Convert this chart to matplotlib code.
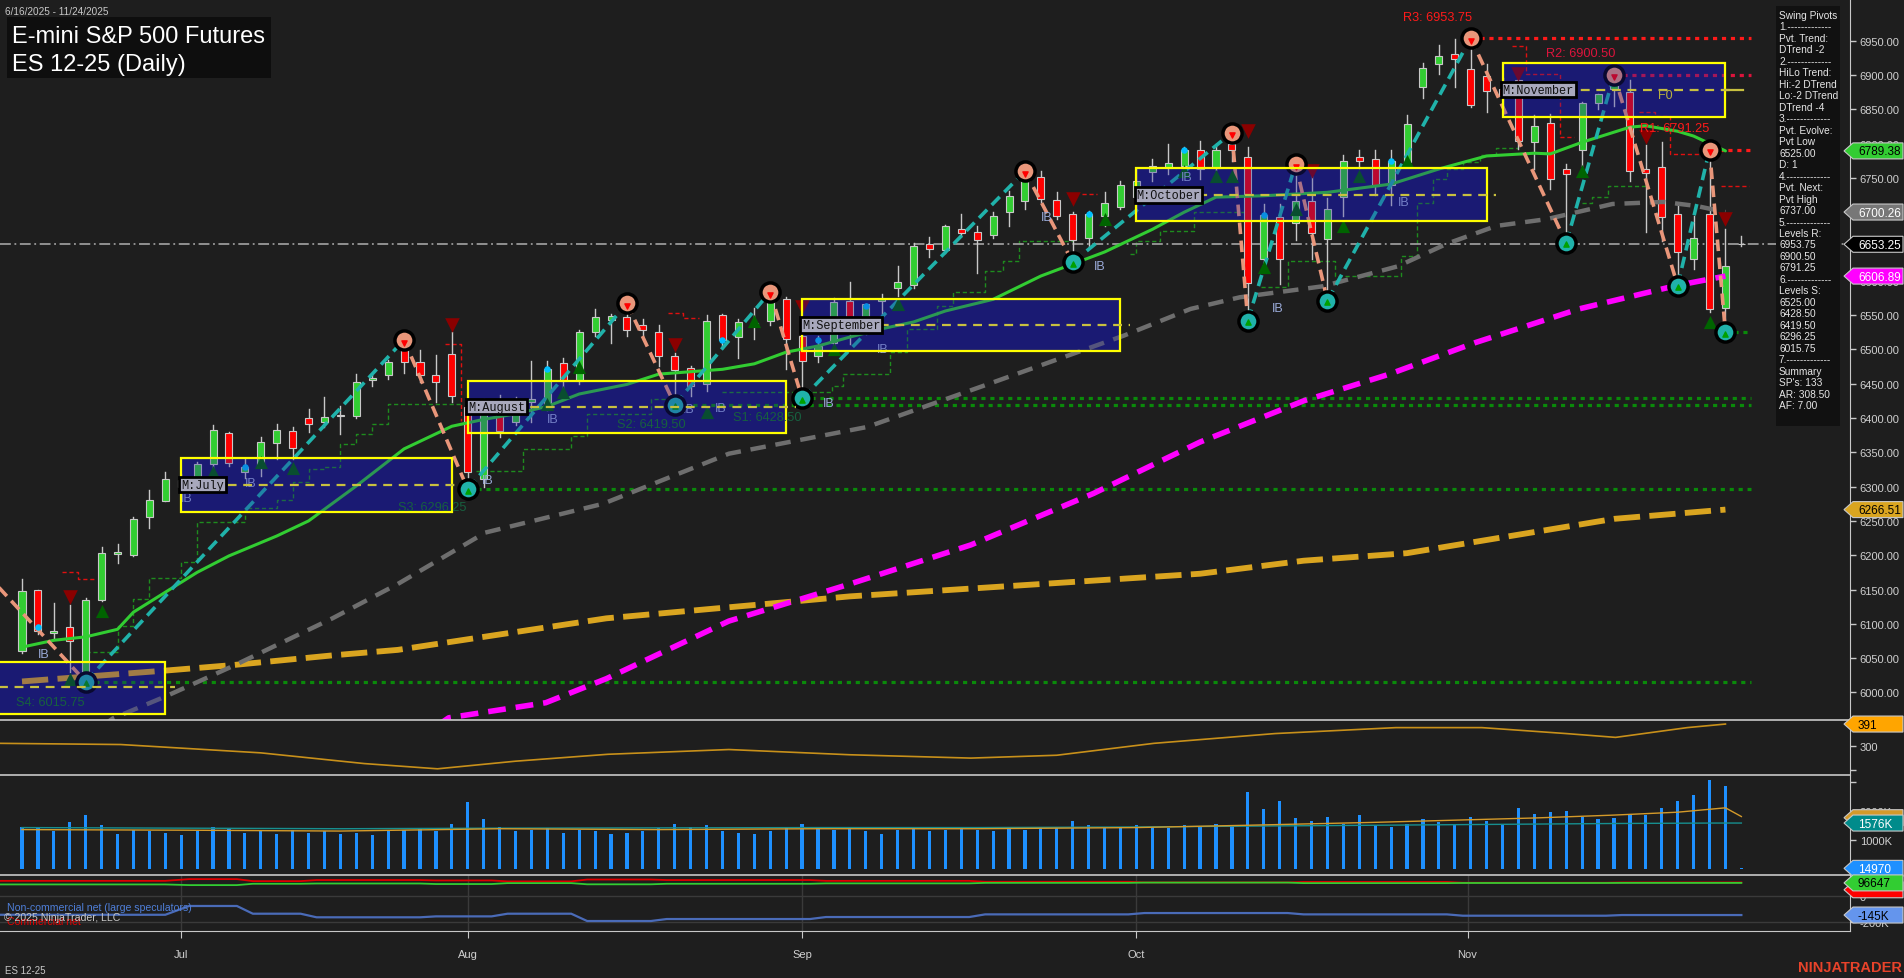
import numpy as np
import matplotlib
matplotlib.use("Agg")
import matplotlib.pyplot as plt
from matplotlib.patches import Rectangle, Polygon

plt.rcParams['font.family'] = ['Liberation Sans', 'DejaVu Sans']

BG = '#1E1E1E'
TXT = '#D0D0D0'

# ---- daily bars, index 0 = first bar on screen ----
opens = [6060, 6149, 6087, 6095, 6029, 6134, 6202, 6201, 6255, 6279,
         6300, 6307, 6333, 6378, 6322, 6330, 6363, 6381, 6400, 6394,
         6403, 6403, 6455, 6463, 6499, 6481, 6463, 6493, 6416, 6311,
         6425, 6394, 6424, 6413, 6480, 6454, 6525, 6543, 6547, 6535,
         6526, 6490, 6473, 6450, 6550, 6518, 6535, 6542, 6573, 6520,
         6490, 6510, 6571, 6539, 6570, 6590, 6594, 6654, 6645, 6675,
         6671, 6667, 6701, 6717, 6752, 6718, 6698, 6663, 6695, 6708,
         6722, 6758, 6765, 6767, 6791, 6765, 6800, 6781, 6632, 6693,
         6685, 6716, 6661, 6722, 6781, 6777, 6739, 6773, 6882, 6916,
         6930, 6909, 6898, 6880, 6892, 6802, 6830, 6763, 6790, 6859,
         6880, 6875, 6763, 6766, 6698, 6632, 6698, 6561, 6653]
highs = [6165, 6150, 6130, 6127, 6137, 6212, 6216, 6255, 6295, 6321,
         6318, 6336, 6390, 6380, 6340, 6373, 6391, 6387, 6413, 6430,
         6418, 6464, 6464, 6484, 6514, 6499, 6492, 6526, 6423, 6428,
         6434, 6430, 6483, 6483, 6488, 6528, 6559, 6552, 6567, 6545,
         6535, 6495, 6476, 6550, 6552, 6544, 6561, 6584, 6576, 6524,
         6520, 6575, 6598, 6566, 6581, 6622, 6655, 6664, 6682, 6697,
         6680, 6700, 6731, 6760, 6760, 6730, 6700, 6702, 6730, 6745,
         6763, 6778, 6800, 6795, 6804, 6800, 6816, 6795, 6712, 6712,
         6770, 6768, 6720, 6783, 6790, 6790, 6790, 6841, 6917, 6944,
         6952, 6953.75, 6916, 6895, 6909, 6841, 6843, 6771, 6860, 6872,
         6900.5, 6892, 6798, 6802, 6712, 6695, 6791.25, 6675, 6666]
lows = [6058, 6085, 6078, 6030, 6015.75, 6133, 6188, 6199, 6240, 6279,
        6290, 6297, 6320, 6330, 6312, 6316, 6340, 6340, 6380, 6387,
        6377, 6400, 6447, 6457, 6466, 6453, 6424, 6423, 6296.25, 6300,
        6373, 6390, 6394, 6411, 6440, 6450, 6519, 6510, 6519, 6515,
        6476, 6419.5, 6432, 6440, 6505, 6488, 6515, 6535, 6471, 6428.5,
        6481, 6505, 6508, 6523, 6552, 6578, 6590, 6635, 6640, 6666,
        6612, 6662, 6680, 6705, 6715, 6690, 6627, 6650, 6680, 6705,
        6700, 6745, 6755, 6766, 6748, 6762, 6775, 6542, 6617, 6595,
        6660, 6632, 6571, 6695, 6765, 6725, 6710, 6770, 6866, 6901,
        6882, 6853, 6846, 6845, 6792, 6763, 6734, 6655, 6768, 6850,
        6855, 6746, 6671, 6658, 6593, 6617, 6554, 6525, 6651]
closes = [6148, 6090, 6090, 6075, 6134, 6203, 6204, 6253, 6281, 6311,
          6310, 6333, 6382, 6334, 6328, 6365, 6382, 6357, 6392, 6402,
          6404, 6453, 6458, 6482, 6481, 6462, 6453, 6432, 6322, 6425,
          6381, 6428, 6428, 6471, 6454, 6526, 6547, 6548, 6529, 6528,
          6490, 6470, 6447, 6542, 6513, 6540, 6538, 6569, 6515, 6483,
          6505, 6569, 6547, 6566, 6573, 6598, 6651, 6646, 6680, 6669,
          6660, 6694, 6723, 6753, 6719, 6694, 6659, 6697, 6714, 6740,
          6745, 6768, 6772, 6790, 6763, 6790, 6790, 6597, 6696, 6632,
          6716, 6670, 6705, 6775, 6774, 6738, 6775, 6829, 6910, 6927,
          6923, 6856, 6876, 6870, 6804, 6826, 6749, 6756, 6859, 6872,
          6885, 6760, 6757, 6693, 6642, 6662, 6559, 6621, 6653.25]
volume_k = [1450, 1400, 1300, 1600, 1850, 1500, 1200, 1350, 1300, 1250,
            1150, 1300, 1450, 1400, 1250, 1300, 1200, 1350, 1250, 1300,
            1200, 1250, 1150, 1300, 1350, 1400, 1300, 1550, 2300, 1700,
            1450, 1300, 1350, 1400, 1250, 1350, 1300, 1200, 1250, 1300,
            1400, 1550, 1450, 1500, 1300, 1250, 1200, 1300, 1400, 1550,
            1400, 1350, 1450, 1300, 1200, 1350, 1450, 1300, 1350, 1400,
            1350, 1300, 1400, 1350, 1450, 1400, 1650, 1500, 1400, 1450,
            1500, 1450, 1400, 1500, 1450, 1550, 1500, 2650, 2050, 2350,
            1750, 1650, 1800, 1550, 1850, 1500, 1450, 1550, 1700, 1600,
            1550, 1800, 1650, 1500, 2100, 1900, 1950, 2000, 1800, 1700,
            1750, 1900, 1850, 2100, 2350, 2550, 3050, 2850, 15]

# ---- moving averages (read at sample bars) ----
ma_green_x = [0, 2, 4, 6, 7, 9, 11, 13, 16, 18, 19, 21, 24, 27, 29, 31, 33, 35, 38, 40, 44, 46, 48, 50,
              52, 54, 56, 58, 61, 64, 68, 71, 73, 75, 78, 82, 86, 89, 92, 95, 96, 98, 101, 102, 104, 105, 107]
ma_green_y = [6066, 6076, 6081, 6092, 6117, 6146, 6175, 6199, 6228, 6250, 6267, 6301, 6355, 6388, 6398,
              6406, 6417, 6435, 6449, 6464, 6471, 6479, 6496, 6505, 6518, 6530, 6540, 6556, 6573, 6607,
              6642, 6675, 6700, 6722, 6724, 6729, 6741, 6763, 6782, 6786, 6785, 6802, 6824, 6826, 6818,
              6811, 6789.38]
ma_gray_x = [5, 5.7, 9.1, 13.3, 19.5, 23.6, 29.1, 36.5, 44.4, 53.1, 60.4, 69.2, 73.4, 76.5, 81.7, 86.4,
             89.5, 92.6, 95.8, 99.9, 103.1, 105.2, 107]
ma_gray_y = [5950, 5962, 5995, 6039, 6108, 6158, 6233, 6275, 6348, 6387, 6447, 6520, 6559, 6576, 6592,
             6621, 6654, 6680, 6690, 6712, 6715, 6709, 6700.26]
ma_mag_x = [26.0, 26.8, 32.9, 36.7, 44.4, 52, 59.6, 67.3, 74, 80.5, 85.9, 91.3, 97.8, 103.9, 107]
ma_mag_y = [5950, 5963, 5985, 6020, 6104, 6158, 6215, 6290, 6365, 6425, 6464, 6510, 6559, 6593, 6606.89]
ma_gold_x = [0, 9.1, 13.3, 19.5, 23.6, 36.7, 52, 74, 80.5, 87, 93.5, 100, 107]
ma_gold_y = [6016, 6032, 6040, 6054, 6062, 6108, 6140, 6173, 6192, 6203, 6228, 6253, 6266.51]

# ---- swing pivots ----
piv_x = [-3, 4, 24, 28, 38, 41, 47, 49, 63, 66, 76, 77, 80, 82, 91, 97, 100, 104, 106, 107]
piv_y = [6192, 6015.75, 6514, 6296.25, 6567, 6419.5, 6584, 6428.5, 6760, 6627, 6816, 6542, 6770, 6571,
         6953.75, 6655, 6900.5, 6593, 6791.25, 6525]

# support / resistance levels
res_names = ['R3', 'R2', 'R1']
res_vals = [6953.75, 6900.50, 6791.25]
res_from = [91, 100, 106]
res_lbl_x = [88.9, 97.9, 103.8]
res_lbl_y = [6984, 6932, 6823]
res_cols = ['#FF1A1A', '#DC143C', '#FF1A1A']
sup_names = ['S1', 'S2', 'S3', 'S4']
sup_vals = [6428.50, 6419.50, 6296.25, 6015.75]
sup_from = [49, 41, 28, 4]
sup_lbl_x = [46.8, 39.5, 25.8, 1.8]
sup_lbl_y = [6401, 6391, 6270, 5986]

# monthly boxes
box_start = [-3, 10, 28, 49, 70, 93]
box_end = [9, 27, 48, 69, 92, 107]
box_top = [6045, 6341, 6453.5, 6573.5, 6764.4, 6917.5]
box_bot = [5968, 6263, 6377.7, 6498, 6687.6, 6839.2]
box_mid = [6008, 6303, 6416.5, 6536, 6725.5, 6878.6]
box_name = [None, 'M:July', 'M:August', 'M:September', 'M:October', 'M:November']

# trailing step lines
gstep_x = [4, 6, 7, 8, 10, 11, 14, 16, 17, 18, 19, 20, 21, 22, 23, 27.5, np.nan,
           28.5, 31.5, 34.5, 35.5, 39.5, 41, np.nan,
           44, 50.9, 51.6, 54.5, 55.6, 57.5, 58.5, 60.5, 61.6, 62.6, 66, np.nan,
           69.6, 70, 71.5, 73.6, 77, np.nan, 77.8, 79.5, 82.5, 86.6, 87.6, 88.6, 89.5, 90.5, 91.6, 92.6, 94,
           np.nan, 98, 98.6, 99.6, 102]
gstep_y = [6059, 6097, 6136, 6167, 6190, 6248, 6269, 6280, 6307, 6326, 6329, 6362, 6377, 6391, 6421, 6424, np.nan,
           6323, 6355, 6374, 6406, 6428, 6428, np.nan,
           6438, 6447, 6464, 6496, 6530, 6563, 6584, 6614, 6629, 6658, 6658, np.nan,
           6639, 6658, 6672, 6700, 6700, np.nan, 6591, 6629, 6607, 6636, 6713, 6748, 6763, 6773, 6783, 6793, 6793,
           np.nan, 6713, 6722, 6738, 6738]
rstep_x = [2.5, 3.5, 4.5, np.nan, 26.6, 27.6, 27.6, np.nan, 40.6, 41.5, 42.5, np.nan, 66.6, 67.5, np.nan,
           93.6, 94.5, 96.6, 96.6, 97.5, np.nan, 101.6, 102.6, 103.5, 103.5, 105.7, np.nan, 106.7, 108.5]
rstep_y = [6175, 6166, 6166, np.nan, 6508, 6508, 6395, np.nan, 6553, 6546, 6546, np.nan, 6726, 6726, np.nan,
           6942, 6901, 6901, 6810, 6810, np.nan, 6846, 6840, 6840, 6785, 6785, np.nan, 6738, 6738]

# signal markers
dn_x = [3, 27, 41, 49, 66, 77, 81, 94, 102, 107]
dn_y = [6139, 6536, 6507, 6562, 6719, 6818, 6760, 6901, 6809, 6690]
up_x = [3, 5, 12, 15, 17, 33, 34, 35, 43, 46, 51, 55, 68, 73, 75, 76, 78, 80, 83, 84, 87, 98, 106]
up_y = [6020, 6118, 6321, 6336, 6327, 6421, 6438, 6474, 6409, 6541, 6501, 6566, 6690, 6760, 6753, 6753,
        6620, 6705, 6680, 6753, 6775, 6760, 6540]
dot_x = [1, 14, 33, 44, 50, 53, 67, 73, 78, 86]
dot_y = [6095, 6329, 6471, 6513, 6514, 6563, 6697, 6790, 6696, 6775]
ib_x = [1, 10, 14, 28.9, 33, 41.5, 43.5, 50.3, 53.7, 64, 67.3, 72.8, 78.5, 86.4]
ib_y = [6056, 6284, 6306, 6310, 6398, 6413, 6414, 6422, 6500, 6693, 6621, 6752, 6560, 6715]

# lower panels
atr_x = [-1.4, 6.2, 15, 21.5, 26.1, 31, 36.8, 44.4, 52, 59.6, 65, 71.1, 78.7, 86.3, 91.7, 97, 100.1, 104.6, 107]
atr_y = [310, 305, 270, 225, 203, 235, 264, 284, 262, 248, 260, 310, 351, 376, 376, 351, 335, 376, 391]
vol_avg_x = [0, 10, 20, 30, 40, 50, 60, 70, 77, 85, 95, 100, 104, 106, 107, 108]
vol_avg_y = [1350, 1330, 1300, 1380, 1350, 1380, 1380, 1420, 1500, 1600, 1750, 1850, 1950, 2050, 2100, 1800]
vol_ma2_y = [1420, 1400, 1380, 1400, 1410, 1420, 1420, 1440, 1470, 1500, 1540, 1560, 1570, 1575, 1576, 1576]
cot_x = [-1.4, 9, 10.5, 13.5, 14.5, 17.5, 18.5, 25, 26, 29.5, 30.5, 34.5, 35.5, 39.5, 40.5, 49.5, 50.5,
         59.5, 60.5, 69.5, 70.5, 79.5, 80.5, 89.5, 90.5, 99.5, 100.5, 108]
cot_spec = [-143, -143, -77, -77, -135, -135, -162, -162, -155, -155, -135, -135, -190, -190, -175, -175,
            -160, -160, -140, -140, -130, -130, -140, -140, -150, -150, -145, -145]
cot_comm = [112, 112, 125, 125, 110, 110, 118, 118, 115, 115, 108, 108, 122, 122, 118, 118, 112, 112,
            105, 105, 100, 100, 104, 104, 98, 98, 100, 100]
cot_small = [85, 85, 80, 80, 90, 90, 92, 92, 88, 88, 95, 95, 86, 86, 90, 90, 93, 93, 97, 97, 99, 99,
             95, 95, 96, 96, 96.6, 96.6]

month_pos = [10, 28, 49, 70, 90.8]
month_lbl = ['Jul', 'Aug', 'Sep', 'Oct', 'Nov']

pivot_text = ['Swing Pivots', '1.-------------', 'Pvt. Trend:', 'DTrend -2', '2.-------------',
              'HiLo Trend:', 'Hi:-2 DTrend', 'Lo:-2 DTrend', 'DTrend -4', '3.-------------',
              'Pvt. Evolve:', 'Pvt Low', '6525.00', 'D: 1', '4.-------------', 'Pvt. Next:',
              'Pvt High', '6737.00', '5.-------------', 'Levels R:', '6953.75', '6900.50', '6791.25',
              '6.-------------', 'Levels S:', '6525.00', '6428.50', '6419.50', '6296.25', '6015.75',
              '7.-------------', 'Summary', "SP's: 133", 'AR: 308.50', 'AF: 7.00']

# ================= figure =================
W, H = 1904, 979
fig = plt.figure(figsize=(W / 100, H / 100), dpi=100, facecolor=BG)


def panel(top, bottom):
    a = fig.add_axes([0, 1 - bottom / H, 1850 / W, (bottom - top) / H])
    a.set_facecolor(BG)
    for s in ['left', 'bottom']:
        a.spines[s].set_visible(False)
    a.spines['right'].set_color('#C8C8C8')
    a.spines['top'].set_color('#C8C8C8')
    a.spines['top'].set_linewidth(1.2)
    a.yaxis.tick_right()
    a.tick_params(axis='y', colors='#C8C8C8', labelcolor=TXT, labelsize=8, length=4, width=1, pad=3)
    a.tick_params(axis='x', bottom=False, labelbottom=False)
    a.set_xlim(-22 / 15.92, (1850 - 22) / 15.92)
    return a


ax = panel(0, 721)
ax.spines['top'].set_visible(False)
ax_atr = panel(721, 776)
ax_vol = panel(776, 876)
ax_cot = panel(876, 932)
ax_cot.spines['bottom'].set_visible(True)
ax_cot.spines['bottom'].set_color('#C8C8C8')

# ---- main price panel ----
ax.set_ylim(5959.8, 7010.8)
ax.set_yticks(np.arange(6000, 6951, 50))
ax.set_yticklabels([f'{v:.2f}' for v in np.arange(6000, 6951, 50)])

n = len(closes)
xs = np.arange(n)

# box bases
for s, e, t, b in zip(box_start, box_end, box_top, box_bot):
    ax.add_patch(Rectangle((s, b), e - s, t - b, fc='#191960', ec='none', zorder=1))

ax.plot(ma_gold_x, ma_gold_y, color='#DAA520', lw=4.2, ls=(0, (4.5, 1.6)), zorder=3)
ax.plot(ma_gray_x, ma_gray_y, color='#6E6E6E', lw=3.2, ls=(0, (3.5, 2.2)), zorder=3)
ax.plot(ma_mag_x, ma_mag_y, color='#FF00FF', lw=4.0, ls=(0, (3.2, 1.8)), zorder=3)
ax.plot(gstep_x, gstep_y, color='#1E8C1E', lw=1.0, ls=(0, (3, 2)), drawstyle='steps-post', zorder=2)
ax.plot(rstep_x, rstep_y, color='#E01010', lw=1.0, ls=(0, (3, 2)), drawstyle='steps-post', zorder=2)

# levels
for v, f, c in zip(res_vals, res_from, res_cols):
    ax.plot([f, 108.6], [v, v], color=c, lw=2.3, ls=(0, (1.3, 1.5)), zorder=2.5)
for v, f in zip(sup_vals, sup_from):
    ax.plot([f, 108.6], [v, v], color='#0A8A0A', lw=2.3, ls=(0, (1.3, 1.5)), zorder=2.5)
ax.plot([107, 108.6], [lows[-2], lows[-2]], color='#0A8A0A', lw=2.3, ls=(0, (1.3, 1.5)), zorder=2.5)

ax.axhline(closes[-1], color='#9A9A9A', lw=1.3, ls=(0, (6, 2, 1, 2)), zorder=2.6)

# candles
for i in range(n):
    o, h, l, c = opens[i], highs[i], lows[i], closes[i]
    col = '#32CD32' if c >= o else '#FF0000'
    ax.plot([i, i], [l, h], color='#C8C8C8', lw=1.0, zorder=2.7)
    ax.add_patch(Rectangle((i - 0.22, min(o, c)), 0.44, max(abs(c - o), 1.2), fc=col, ec='#C8C8C8',
                           lw=0.8, zorder=2.8))

ax.plot(ma_green_x, ma_green_y, color='#32CD32', lw=2.2, zorder=3.2, solid_capstyle='round')

# zigzag
for k in range(len(piv_x) - 1):
    up = piv_y[k + 1] > piv_y[k]
    ax.plot(piv_x[k:k + 2], piv_y[k:k + 2], color='#20B2AA' if up else '#E9967A', lw=2.6,
            ls=(0, (3.2, 1.8)), zorder=4)
hi = [k for k in range(1, len(piv_x)) if piv_y[k] > piv_y[k - 1]]
lo = [k for k in range(1, len(piv_x)) if piv_y[k] < piv_y[k - 1]]
ax.scatter([piv_x[k] for k in hi], [piv_y[k] for k in hi], s=190, fc='#E9967A', ec='black', lw=2.5,
           zorder=4.5)
ax.scatter([piv_x[k] for k in lo], [piv_y[k] for k in lo], s=190, fc='#20B2AA', ec='black', lw=2.5,
           zorder=4.5)
ax.scatter([piv_x[k] for k in hi], [piv_y[k] - 4 for k in hi], s=14, marker='v', c='#FF0000', zorder=4.6)
ax.scatter([piv_x[k] for k in lo], [piv_y[k] - 2 for k in lo], s=14, marker='^', c='#00A000', zorder=4.6)

ax.scatter(dn_x, dn_y, s=110, marker='v', c='#8B0000', zorder=4, linewidths=0)
ax.scatter(up_x, up_y, s=90, marker='^', c='#006400', zorder=4, linewidths=0)
ax.scatter(dot_x, dot_y, s=22, c='#00BFFF', zorder=4, linewidths=0)
for x, y in zip(ib_x, ib_y):
    ax.text(x, y, 'IB', color='#9AAAD8', fontsize=9, ha='left', va='center', zorder=4)

# box tint + borders + labels
for s, e, t, b, m, name in zip(box_start, box_end, box_top, box_bot, box_mid, box_name):
    ax.add_patch(Rectangle((s, b), e - s, t - b, fc='#1E1EA0', alpha=0.3, ec='none', zorder=5))
    ax.add_patch(Rectangle((s, b), e - s, t - b, fc='none', ec='#FFFF00', lw=1.6, zorder=6))
    ax.plot([s, e + 0.6], [m, m], color='#C8C040', lw=1.6, ls=(0, (4, 3)), zorder=6)
    if name:
        ax.text(s, m, name, family='Liberation Mono', fontsize=8.6, color='#111111', ha='left',
                va='center', zorder=7,
                bbox=dict(boxstyle='square,pad=0.15', fc='#A8A8BC', ec='black', lw=2))
ax.plot([box_end[-1], 108.1], [box_mid[-1], box_mid[-1]], color='#C8C040', lw=1.6, zorder=6)
ax.text(103.2, box_mid[-1] - 8, 'F0', color='#B8B040', fontsize=9, ha='center', va='center', zorder=6)

for name, v, x, y, c in zip(res_names, res_vals, res_lbl_x, res_lbl_y, res_cols):
    ax.text(x, y, f'{name}: {v:.2f}', color=c, fontsize=9.2, ha='center', va='center', zorder=7)
for name, v, x, y in zip(sup_names, sup_vals, sup_lbl_x, sup_lbl_y):
    ax.text(x, y, f'{name}: {v:.2f}', color='#17603F', fontsize=9.2, ha='center', va='center', zorder=7)

# ---- ATR panel ----
ax_atr.set_ylim(177, 408)
ax_atr.set_yticks([200, 300])
ax_atr.set_yticklabels(['', '300'])
ax_atr.plot(atr_x, atr_y, color='#C8901A', lw=1.2)

# ---- volume panel ----
ax_vol.set_ylim(-214, 3231)
ax_vol.set_yticks([1000, 2000, 3000])
ax_vol.set_yticklabels(['1000K', '2000K', ''])
ax_vol.bar(xs, volume_k, width=0.2, color='#1E90FF', zorder=2)
ax_vol.plot(vol_avg_x, vol_ma2_y, color='#178F8F', lw=1.0, zorder=3)
ax_vol.plot(vol_avg_x, vol_avg_y, color='#D49A2A', lw=1.0, zorder=3)

# ---- COT panel ----
ax_cot.set_ylim(-265, 156)
ax_cot.set_yticks([0, -200])
ax_cot.set_yticklabels(['0', '-200K'])
for mp in month_pos:
    ax_cot.axvline(mp, color='#3A3A3A', lw=1, zorder=1)
ax_cot.axhline(-200, color='#3A3A3A', lw=1, zorder=1)
ax_cot.axhline(0, color='#3A3A3A', lw=1, zorder=1)
ax_cot.plot(cot_x, cot_comm, color='#E00000', lw=1.3, zorder=2)
ax_cot.plot(cot_x, cot_small, color='#32CD32', lw=1.3, zorder=2)
ax_cot.plot(cot_x, cot_spec, color='#4A6BB8', lw=1.6, zorder=3)
ax_cot.text(0.004, 0.42, 'Non-commercial net (large speculators)', transform=ax_cot.transAxes,
            color='#4F7FD9', fontsize=7.6, va='center', zorder=4)
ax_cot.text(0.004, 0.18, 'Commercial net', transform=ax_cot.transAxes, color='#E00000', fontsize=7.6,
            va='center', zorder=4)
ax_cot.text(0.002, 0.255, '\u00a9 2025 NinjaTrader, LLC', transform=ax_cot.transAxes, color='#C8C8C8',
            fontsize=7.6, va='center', zorder=5)
ax_cot.tick_params(axis='x', bottom=True, labelbottom=True, colors='#C8C8C8', labelcolor=TXT,
                   labelsize=8, length=5, pad=8)
ax_cot.set_xticks(month_pos)
ax_cot.set_xticklabels(month_lbl)

# ================= overlay (tags, text boxes) =================
ov = fig.add_axes([0, 0, 1, 1], zorder=10)
ov.set_xlim(0, W)
ov.set_ylim(H, 0)
ov.axis('off')


def tag(axis, value, text, fc, tc, ec='#C8C8C8'):
    y = H - axis.transData.transform((0, value))[1]
    pts = [(1844, y), (1853, y - 8), (1903, y - 8), (1903, y + 8), (1853, y + 8)]
    ov.add_patch(Polygon(pts, closed=True, fc=fc, ec=ec, lw=0.8))
    ov.text(1858, y + 0.5, text, color=tc, fontsize=8.5, ha='left', va='center')


tag(ax, ma_green_y[-1], f'{ma_green_y[-1]:.2f}', '#32CD32', 'black')
tag(ax, ma_gray_y[-1], f'{ma_gray_y[-1]:.2f}', '#777777', 'white')
tag(ax, closes[-1], f'{closes[-1]:.2f}', 'black', 'white')
tag(ax, ma_mag_y[-1], f'{ma_mag_y[-1]:.2f}', '#FF00FF', 'white')
tag(ax, ma_gold_y[-1], f'{ma_gold_y[-1]:.2f}', '#DAA520', 'black')
tag(ax_atr, atr_y[-1], f'{atr_y[-1]}', '#FFA500', 'black')
tag(ax_vol, 1760, '', '#D49A2A', 'black')
tag(ax_vol, 1576, '1576K', '#008B8B', 'white')
tag(ax_vol, volume_k[-1], '14970', '#1E90FF', 'white')
tag(ax_cot, 45, '', '#FF0000', 'white')
tag(ax_cot, cot_small[-1], '96647', '#32CD32', 'black')
tag(ax_cot, cot_spec[-1], '-145K', '#6495ED', 'black')

# title block
ov.add_patch(Rectangle((7, 18), 264, 61, fc='#0E0E0E', ec='none'))
ov.text(5, 12, '6/16/2025 - 11/24/2025', color='#C8C8C8', fontsize=7.2, va='center')
ov.text(12, 43, 'E-mini S&P 500 Futures', color='white', fontsize=17, va='baseline')
ov.text(12, 71.5, 'ES 12-25 (Daily)', color='white', fontsize=17, va='baseline')

# swing pivots panel
ov.add_patch(Rectangle((1776, 7), 64, 420, fc='#111111', ec='none'))
for i, line in enumerate(pivot_text):
    ov.text(1779, 15.7 + i * 11.49, line, color='#E6E6E6', fontsize=7.3, va='center', ha='left')

ov.text(5, 971, 'ES 12-25', color='#C8C8C8', fontsize=7, va='center')
ov.text(1902, 968, 'NINJATRADER', color='#E8432A', fontsize=10.5, fontweight='bold', ha='right',
        va='center')

fig.savefig('out.png', dpi=100, facecolor=BG)
